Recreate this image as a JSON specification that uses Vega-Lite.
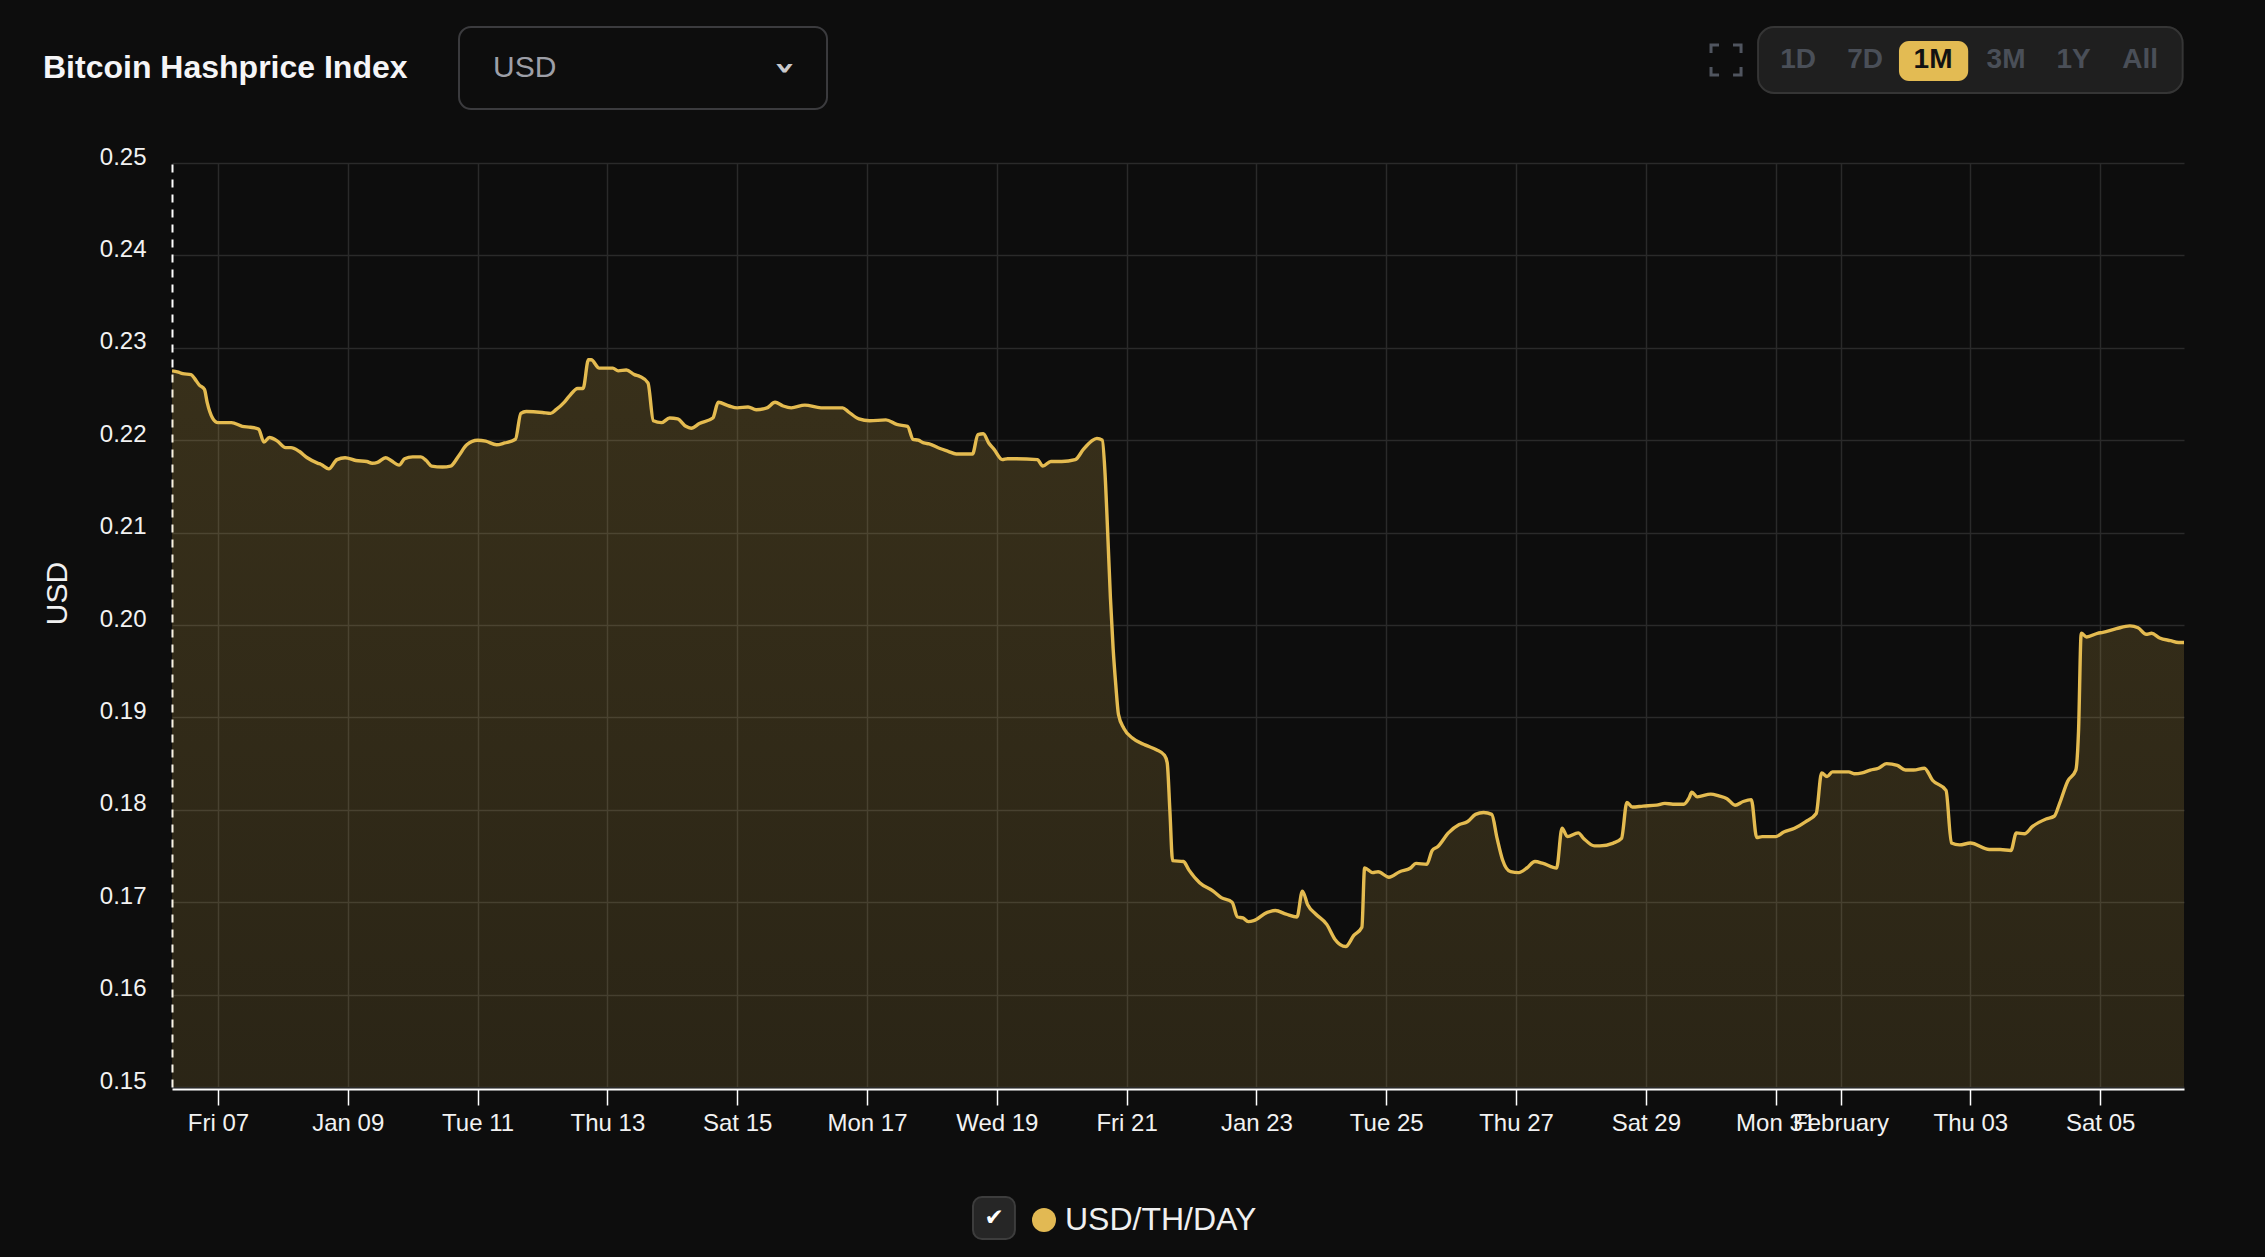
{
  "$schema": "https://vega.github.io/schema/vega-lite/v6.json",
  "width": 2012,
  "height": 924,
  "autosize": {"type": "none"},
  "padding": {"left": 172, "top": 163, "right": 81, "bottom": 170},
  "background": "#0d0d0d",
  "datasets": {
    "hashprice": [
      {"time":"2022-01-06T07:00Z","usd":0.2275},{"time":"2022-01-06T09:00Z","usd":0.2274},{"time":"2022-01-06T11:00Z","usd":0.2272},{"time":"2022-01-06T14:00Z","usd":0.2271},{"time":"2022-01-06T16:00Z","usd":0.2264},{"time":"2022-01-06T17:00Z","usd":0.2260},{"time":"2022-01-06T19:00Z","usd":0.2255},{"time":"2022-01-06T20:00Z","usd":0.2241},{"time":"2022-01-06T22:00Z","usd":0.2224},
      {"time":"2022-01-07T00:00Z","usd":0.2219},{"time":"2022-01-07T05:00Z","usd":0.2219},{"time":"2022-01-07T09:00Z","usd":0.2215},{"time":"2022-01-07T12:00Z","usd":0.2214},{"time":"2022-01-07T15:00Z","usd":0.2212},{"time":"2022-01-07T17:00Z","usd":0.2198},{"time":"2022-01-07T19:00Z","usd":0.2203},{"time":"2022-01-07T22:00Z","usd":0.2199},
      {"time":"2022-01-08T01:00Z","usd":0.2192},{"time":"2022-01-08T03:00Z","usd":0.2192},{"time":"2022-01-08T06:00Z","usd":0.2188},{"time":"2022-01-08T09:00Z","usd":0.2181},{"time":"2022-01-08T13:00Z","usd":0.2175},{"time":"2022-01-08T14:00Z","usd":0.2174},{"time":"2022-01-08T17:00Z","usd":0.2169},{"time":"2022-01-08T20:00Z","usd":0.2179},{"time":"2022-01-08T23:00Z","usd":0.2181},
      {"time":"2022-01-09T03:00Z","usd":0.2178},{"time":"2022-01-09T07:00Z","usd":0.2177},{"time":"2022-01-09T09:00Z","usd":0.2175},{"time":"2022-01-09T11:00Z","usd":0.2176},{"time":"2022-01-09T14:00Z","usd":0.2181},{"time":"2022-01-09T16:00Z","usd":0.2178},{"time":"2022-01-09T19:00Z","usd":0.2173},{"time":"2022-01-09T21:00Z","usd":0.2180},
      {"time":"2022-01-10T00:00Z","usd":0.2182},{"time":"2022-01-10T03:00Z","usd":0.2182},{"time":"2022-01-10T05:00Z","usd":0.2178},{"time":"2022-01-10T07:00Z","usd":0.2172},{"time":"2022-01-10T11:00Z","usd":0.2171},{"time":"2022-01-10T14:00Z","usd":0.2172},{"time":"2022-01-10T17:00Z","usd":0.2183},{"time":"2022-01-10T20:00Z","usd":0.2195},
      {"time":"2022-01-11T00:00Z","usd":0.2200},{"time":"2022-01-11T03:00Z","usd":0.2199},{"time":"2022-01-11T07:00Z","usd":0.2195},{"time":"2022-01-11T10:00Z","usd":0.2197},{"time":"2022-01-11T14:00Z","usd":0.2201},{"time":"2022-01-11T16:00Z","usd":0.2229},{"time":"2022-01-11T18:00Z","usd":0.2231},
      {"time":"2022-01-12T00:00Z","usd":0.2230},{"time":"2022-01-12T03:00Z","usd":0.2229},{"time":"2022-01-12T05:00Z","usd":0.2233},{"time":"2022-01-12T08:00Z","usd":0.2241},{"time":"2022-01-12T10:00Z","usd":0.2248},{"time":"2022-01-12T13:00Z","usd":0.2256},{"time":"2022-01-12T15:00Z","usd":0.2256},{"time":"2022-01-12T17:00Z","usd":0.2287},{"time":"2022-01-12T18:00Z","usd":0.2287},{"time":"2022-01-12T21:00Z","usd":0.2278},
      {"time":"2022-01-13T02:00Z","usd":0.2278},{"time":"2022-01-13T04:00Z","usd":0.2275},{"time":"2022-01-13T07:00Z","usd":0.2276},{"time":"2022-01-13T10:00Z","usd":0.2271},{"time":"2022-01-13T12:00Z","usd":0.2269},{"time":"2022-01-13T15:00Z","usd":0.2262},{"time":"2022-01-13T17:00Z","usd":0.2221},{"time":"2022-01-13T20:00Z","usd":0.2219},{"time":"2022-01-13T23:00Z","usd":0.2224},
      {"time":"2022-01-14T02:00Z","usd":0.2223},{"time":"2022-01-14T05:00Z","usd":0.2215},{"time":"2022-01-14T07:00Z","usd":0.2213},{"time":"2022-01-14T10:00Z","usd":0.2218},{"time":"2022-01-14T15:00Z","usd":0.2224},{"time":"2022-01-14T17:00Z","usd":0.2241},{"time":"2022-01-14T21:00Z","usd":0.2237},
      {"time":"2022-01-15T00:00Z","usd":0.2235},{"time":"2022-01-15T04:00Z","usd":0.2236},{"time":"2022-01-15T07:00Z","usd":0.2233},{"time":"2022-01-15T11:00Z","usd":0.2235},{"time":"2022-01-15T14:00Z","usd":0.2241},{"time":"2022-01-15T17:00Z","usd":0.2237},{"time":"2022-01-15T20:00Z","usd":0.2235},
      {"time":"2022-01-16T01:00Z","usd":0.2238},{"time":"2022-01-16T07:00Z","usd":0.2235},{"time":"2022-01-16T15:00Z","usd":0.2235},{"time":"2022-01-16T17:00Z","usd":0.2231},{"time":"2022-01-16T21:00Z","usd":0.2223},
      {"time":"2022-01-17T01:00Z","usd":0.2221},{"time":"2022-01-17T07:00Z","usd":0.2222},{"time":"2022-01-17T11:00Z","usd":0.2217},{"time":"2022-01-17T15:00Z","usd":0.2215},{"time":"2022-01-17T17:00Z","usd":0.2201},{"time":"2022-01-17T19:00Z","usd":0.2200},{"time":"2022-01-17T21:00Z","usd":0.2197},{"time":"2022-01-17T23:00Z","usd":0.2196},
      {"time":"2022-01-18T03:00Z","usd":0.2191},{"time":"2022-01-18T06:00Z","usd":0.2188},{"time":"2022-01-18T09:00Z","usd":0.2185},{"time":"2022-01-18T15:00Z","usd":0.2185},{"time":"2022-01-18T17:00Z","usd":0.2206},{"time":"2022-01-18T19:00Z","usd":0.2207},{"time":"2022-01-18T21:00Z","usd":0.2197},{"time":"2022-01-18T23:00Z","usd":0.2190},
      {"time":"2022-01-19T02:00Z","usd":0.2179},{"time":"2022-01-19T04:00Z","usd":0.2180},{"time":"2022-01-19T15:00Z","usd":0.2179},{"time":"2022-01-19T17:00Z","usd":0.2172},{"time":"2022-01-19T20:00Z","usd":0.2177},
      {"time":"2022-01-20T00:00Z","usd":0.2177},{"time":"2022-01-20T05:00Z","usd":0.2179},{"time":"2022-01-20T08:00Z","usd":0.2190},{"time":"2022-01-20T11:00Z","usd":0.2199},{"time":"2022-01-20T13:00Z","usd":0.2202},{"time":"2022-01-20T15:00Z","usd":0.2200},{"time":"2022-01-20T16:00Z","usd":0.2165},{"time":"2022-01-20T17:00Z","usd":0.2100},{"time":"2022-01-20T18:00Z","usd":0.2030},{"time":"2022-01-20T19:00Z","usd":0.1975},{"time":"2022-01-20T20:00Z","usd":0.1935},{"time":"2022-01-20T21:00Z","usd":0.1903},{"time":"2022-01-20T23:00Z","usd":0.1888},
      {"time":"2022-01-21T02:00Z","usd":0.1878},{"time":"2022-01-21T07:00Z","usd":0.1870},{"time":"2022-01-21T11:00Z","usd":0.1865},{"time":"2022-01-21T14:00Z","usd":0.1859},{"time":"2022-01-21T15:00Z","usd":0.1851},{"time":"2022-01-21T16:00Z","usd":0.1799},{"time":"2022-01-21T17:00Z","usd":0.1745},{"time":"2022-01-21T21:00Z","usd":0.1744},{"time":"2022-01-21T23:00Z","usd":0.1735},
      {"time":"2022-01-22T03:00Z","usd":0.1721},{"time":"2022-01-22T08:00Z","usd":0.1712},{"time":"2022-01-22T11:00Z","usd":0.1705},{"time":"2022-01-22T15:00Z","usd":0.1700},{"time":"2022-01-22T17:00Z","usd":0.1684},{"time":"2022-01-22T19:00Z","usd":0.1683},{"time":"2022-01-22T21:00Z","usd":0.1679},{"time":"2022-01-22T23:00Z","usd":0.1680},
      {"time":"2022-01-23T04:00Z","usd":0.1689},{"time":"2022-01-23T07:00Z","usd":0.1691},{"time":"2022-01-23T11:00Z","usd":0.1687},{"time":"2022-01-23T15:00Z","usd":0.1684},{"time":"2022-01-23T17:00Z","usd":0.1712},{"time":"2022-01-23T19:00Z","usd":0.1697},{"time":"2022-01-23T22:00Z","usd":0.1687},
      {"time":"2022-01-24T02:00Z","usd":0.1676},{"time":"2022-01-24T05:00Z","usd":0.1660},{"time":"2022-01-24T09:00Z","usd":0.1652},{"time":"2022-01-24T12:00Z","usd":0.1664},{"time":"2022-01-24T15:00Z","usd":0.1673},{"time":"2022-01-24T16:00Z","usd":0.1737},{"time":"2022-01-24T19:00Z","usd":0.1732},{"time":"2022-01-24T21:00Z","usd":0.1733},
      {"time":"2022-01-25T01:00Z","usd":0.1727},{"time":"2022-01-25T05:00Z","usd":0.1733},{"time":"2022-01-25T09:00Z","usd":0.1737},{"time":"2022-01-25T11:00Z","usd":0.1742},{"time":"2022-01-25T15:00Z","usd":0.1741},{"time":"2022-01-25T17:00Z","usd":0.1756},{"time":"2022-01-25T19:00Z","usd":0.1760},{"time":"2022-01-25T23:00Z","usd":0.1775},
      {"time":"2022-01-26T03:00Z","usd":0.1784},{"time":"2022-01-26T06:00Z","usd":0.1787},{"time":"2022-01-26T09:00Z","usd":0.1795},{"time":"2022-01-26T12:00Z","usd":0.1797},{"time":"2022-01-26T15:00Z","usd":0.1795},{"time":"2022-01-26T17:00Z","usd":0.1769},{"time":"2022-01-26T19:00Z","usd":0.1746},{"time":"2022-01-26T22:00Z","usd":0.1733},
      {"time":"2022-01-27T01:00Z","usd":0.1732},{"time":"2022-01-27T04:00Z","usd":0.1737},{"time":"2022-01-27T07:00Z","usd":0.1744},{"time":"2022-01-27T10:00Z","usd":0.1742},{"time":"2022-01-27T15:00Z","usd":0.1737},{"time":"2022-01-27T17:00Z","usd":0.1780},{"time":"2022-01-27T19:00Z","usd":0.1771},{"time":"2022-01-27T23:00Z","usd":0.1775},
      {"time":"2022-01-28T01:00Z","usd":0.1769},{"time":"2022-01-28T05:00Z","usd":0.1761},{"time":"2022-01-28T07:00Z","usd":0.1761},{"time":"2022-01-28T12:00Z","usd":0.1764},{"time":"2022-01-28T15:00Z","usd":0.1769},{"time":"2022-01-28T17:00Z","usd":0.1808},{"time":"2022-01-28T19:00Z","usd":0.1803},{"time":"2022-01-28T23:00Z","usd":0.1804},
      {"time":"2022-01-29T04:00Z","usd":0.1805},{"time":"2022-01-29T07:00Z","usd":0.1807},{"time":"2022-01-29T10:00Z","usd":0.1806},{"time":"2022-01-29T14:00Z","usd":0.1806},{"time":"2022-01-29T16:00Z","usd":0.1813},{"time":"2022-01-29T17:00Z","usd":0.1819},{"time":"2022-01-29T19:00Z","usd":0.1814},
      {"time":"2022-01-30T00:00Z","usd":0.1817},{"time":"2022-01-30T03:00Z","usd":0.1815},{"time":"2022-01-30T06:00Z","usd":0.1812},{"time":"2022-01-30T09:00Z","usd":0.1805},{"time":"2022-01-30T12:00Z","usd":0.1809},{"time":"2022-01-30T15:00Z","usd":0.1811},{"time":"2022-01-30T17:00Z","usd":0.1770},{"time":"2022-01-30T19:00Z","usd":0.1771},
      {"time":"2022-01-31T00:00Z","usd":0.1771},{"time":"2022-01-31T03:00Z","usd":0.1776},{"time":"2022-01-31T07:00Z","usd":0.1780},{"time":"2022-01-31T11:00Z","usd":0.1787},{"time":"2022-01-31T15:00Z","usd":0.1796},{"time":"2022-01-31T17:00Z","usd":0.1840},{"time":"2022-01-31T19:00Z","usd":0.1836},{"time":"2022-01-31T21:00Z","usd":0.1841},
      {"time":"2022-02-01T03:00Z","usd":0.1841},{"time":"2022-02-01T05:00Z","usd":0.1839},{"time":"2022-02-01T08:00Z","usd":0.1840},{"time":"2022-02-01T11:00Z","usd":0.1843},{"time":"2022-02-01T14:00Z","usd":0.1845},{"time":"2022-02-01T17:00Z","usd":0.1850},{"time":"2022-02-01T21:00Z","usd":0.1848},
      {"time":"2022-02-02T00:00Z","usd":0.1843},{"time":"2022-02-02T03:00Z","usd":0.1843},{"time":"2022-02-02T07:00Z","usd":0.1845},{"time":"2022-02-02T10:00Z","usd":0.1832},{"time":"2022-02-02T15:00Z","usd":0.1821},{"time":"2022-02-02T17:00Z","usd":0.1764},{"time":"2022-02-02T20:00Z","usd":0.1762},
      {"time":"2022-02-03T00:00Z","usd":0.1764},{"time":"2022-02-03T07:00Z","usd":0.1757},{"time":"2022-02-03T11:00Z","usd":0.1757},{"time":"2022-02-03T15:00Z","usd":0.1756},{"time":"2022-02-03T17:00Z","usd":0.1775},{"time":"2022-02-03T20:00Z","usd":0.1774},{"time":"2022-02-03T23:00Z","usd":0.1782},
      {"time":"2022-02-04T04:00Z","usd":0.1790},{"time":"2022-02-04T07:00Z","usd":0.1793},{"time":"2022-02-04T09:00Z","usd":0.1807},{"time":"2022-02-04T12:00Z","usd":0.1831},{"time":"2022-02-04T15:00Z","usd":0.1843},{"time":"2022-02-04T16:00Z","usd":0.1885},{"time":"2022-02-04T17:00Z","usd":0.1991},{"time":"2022-02-04T19:00Z","usd":0.1987},{"time":"2022-02-04T23:00Z","usd":0.1991},
      {"time":"2022-02-05T01:00Z","usd":0.1992},{"time":"2022-02-05T06:00Z","usd":0.1996},{"time":"2022-02-05T11:00Z","usd":0.1999},{"time":"2022-02-05T14:00Z","usd":0.1997},{"time":"2022-02-05T17:00Z","usd":0.1990},{"time":"2022-02-05T19:00Z","usd":0.1991},{"time":"2022-02-05T22:00Z","usd":0.1986},
      {"time":"2022-02-06T02:00Z","usd":0.1983},{"time":"2022-02-06T05:00Z","usd":0.1981},{"time":"2022-02-06T07:00Z","usd":0.1981}
    ]
  },
  "layer": [
    {
      "data": {"name": "hashprice"},
      "encoding": {
        "x": {
          "field": "time",
          "type": "temporal",
          "scale": {"type": "utc", "domain": [{"year": 2022, "month": 1, "date": 6, "hours": 7, "utc": true}, {"year": 2022, "month": 2, "date": 6, "hours": 7, "utc": true}]},
          "axis": {
            "title": null,
            "values": [
              {"year": 2022, "month": 1, "date": 7, "utc": true}, {"year": 2022, "month": 1, "date": 9, "utc": true},
              {"year": 2022, "month": 1, "date": 11, "utc": true}, {"year": 2022, "month": 1, "date": 13, "utc": true},
              {"year": 2022, "month": 1, "date": 15, "utc": true}, {"year": 2022, "month": 1, "date": 17, "utc": true},
              {"year": 2022, "month": 1, "date": 19, "utc": true}, {"year": 2022, "month": 1, "date": 21, "utc": true},
              {"year": 2022, "month": 1, "date": 23, "utc": true}, {"year": 2022, "month": 1, "date": 25, "utc": true},
              {"year": 2022, "month": 1, "date": 27, "utc": true}, {"year": 2022, "month": 1, "date": 29, "utc": true},
              {"year": 2022, "month": 1, "date": 31, "utc": true}, {"year": 2022, "month": 2, "date": 1, "utc": true},
              {"year": 2022, "month": 2, "date": 3, "utc": true}, {"year": 2022, "month": 2, "date": 5, "utc": true}
            ],
            "labelExpr": "utcdate(datum.value) == 1 ? utcFormat(datum.value, '%B') : (utcday(datum.value) == 0 ? utcFormat(datum.value, '%b %d') : utcFormat(datum.value, '%a %d'))",
            "labelOverlap": false,
            "labelFlush": false,
            "labelBound": false,
            "grid": true,
            "gridColor": "#2a2a2a",
            "gridWidth": 1.5,
            "domainColor": "#ffffff",
            "domainWidth": 2,
            "tickColor": "#ffffff",
            "tickWidth": 1.5,
            "tickSize": 16,
            "offset": 2,
            "labelPadding": 6,
            "labelFont": "Liberation Sans",
            "labelFontSize": 24,
            "labelColor": "#f2f2f2"
          }
        },
        "y": {
          "field": "usd",
          "type": "quantitative",
          "scale": {"domain": [0.15, 0.25], "zero": false, "nice": false},
          "axis": {
            "title": "USD",
            "values": [0.15, 0.16, 0.17, 0.18, 0.19, 0.2, 0.21, 0.22, 0.23, 0.24, 0.25],
            "format": ".2f",
            "grid": true,
            "gridColor": "#2a2a2a",
            "gridWidth": 1.5,
            "ticks": false,
            "domainColor": "#ffffff",
            "domainWidth": 2,
            "domainDash": [8, 7],
            "labelPadding": 26,
            "labelBaseline": "middle",
            "labelOffset": -6,
            "labelFont": "Liberation Sans",
            "labelFontSize": 24,
            "labelColor": "#f2f2f2",
            "titleFont": "Liberation Sans",
            "titleFontSize": 30,
            "titleFontWeight": "normal",
            "titleColor": "#f0f0f0",
            "titleAngle": -90,
            "titleAlign": "center",
            "titleBaseline": "middle",
            "titleX": -115,
            "titleY": 430
          }
        }
      },
      "layer": [
        {
          "mark": {
            "type": "area",
            "interpolate": "monotone",
            "clip": true,
            "color": {
              "gradient": "linear", "x1": 0, "y1": 0, "x2": 0, "y2": 1,
              "stops": [{"offset": 0, "color": "rgba(228,187,79,0.2)"}, {"offset": 1, "color": "rgba(228,187,79,0.02)"}]
            }
          }
        },
        {
          "mark": {"type": "line", "interpolate": "monotone", "strokeWidth": 3.4, "clip": true},
          "encoding": {
            "color": {
              "datum": "USD/TH/DAY",
              "type": "nominal",
              "scale": {"range": ["#e4bb50"]},
              "legend": {
                "title": null,
                "orient": "none",
                "legendX": 856,
                "legendY": 1041,
                "direction": "horizontal",
                "padding": 0,
                "symbolType": "circle",
                "symbolSize": 576,
                "symbolFillColor": "#e2b953",
                "symbolStrokeWidth": 0,
                "labelFont": "Liberation Sans",
                "labelFontSize": 32,
                "labelColor": "#f0f0f0",
                "labelOffset": 5,
                "labelLimit": 500,
                "encode": {"symbols": {"update": {"fill": {"value": "#e2b953"}, "strokeWidth": {"value": 0}, "opacity": {"value": 1}}}}
              }
            }
          }
        }
      ]
    },
    {
      "data": {"values": [{"label": "Bitcoin Hashprice Index"}]},
      "mark": {"type": "text", "clip": false, "align": "left", "baseline": "alphabetic", "font": "Liberation Sans", "fontSize": 32, "fontWeight": "bold", "color": "#f5f5f7"},
      "encoding": {
        "x": {"datum": {"year": 2022, "month": 1, "date": 4, "hours": 7, "minutes": 18, "utc": true}, "type": "temporal"},
        "y": {"datum": 0.259199, "type": "quantitative"},
        "text": {"field": "label"}
      }
    },
    {
      "data": {"values": [{"label": "dropdown"}]},
      "mark": {"type": "rect", "clip": false, "cornerRadius": 12, "fill": "#0d0d0d", "stroke": "#3b3b3e", "strokeWidth": 2},
      "encoding": {
        "x": {"datum": {"year": 2022, "month": 1, "date": 10, "hours": 17, "minutes": 8, "utc": true}, "type": "temporal"},
        "x2": {"datum": {"year": 2022, "month": 1, "date": 16, "hours": 9, "minutes": 13, "utc": true}},
        "y": {"datum": 0.264719, "type": "quantitative"},
        "y2": {"datum": 0.255844}
      }
    },
    {
      "data": {"values": [{"label": "USD"}]},
      "mark": {"type": "text", "clip": false, "align": "left", "baseline": "middle", "font": "Liberation Sans", "fontSize": 30, "color": "#9d9fa7"},
      "encoding": {
        "x": {"datum": {"year": 2022, "month": 1, "date": 11, "hours": 5, "minutes": 42, "utc": true}, "type": "temporal"},
        "y": {"datum": 0.260281, "type": "quantitative"},
        "text": {"field": "label"}
      }
    },
    {
      "data": {"values": [{"label": "›"}]},
      "mark": {"type": "text", "clip": false, "align": "center", "baseline": "middle", "angle": 90, "font": "DejaVu Sans", "fontSize": 36, "fontWeight": "bold", "color": "#c9c9cc"},
      "encoding": {
        "x": {"datum": {"year": 2022, "month": 1, "date": 15, "hours": 17, "minutes": 42, "utc": true}, "type": "temporal"},
        "y": {"datum": 0.260281, "type": "quantitative"},
        "text": {"field": "label"}
      }
    },
    {
      "data": {"values": [{"label": "fullscreen"}]},
      "mark": {"type": "rect", "clip": false, "fill": "transparent", "stroke": "#50555f", "strokeWidth": 3, "strokeDash": [8, 14, 8, 0]},
      "encoding": {
        "x": {"datum": {"year": 2022, "month": 1, "date": 30, "hours": 0, "minutes": 6, "utc": true}, "type": "temporal"},
        "x2": {"datum": {"year": 2022, "month": 1, "date": 30, "hours": 11, "minutes": 12, "utc": true}},
        "y": {"datum": 0.262771, "type": "quantitative"},
        "y2": {"datum": 0.259524}
      }
    },
    {
      "data": {"values": [{"label": "range"}]},
      "mark": {"type": "rect", "clip": false, "cornerRadius": 16, "fill": "#1f1f1f", "stroke": "#353535", "strokeWidth": 2},
      "encoding": {
        "x": {"datum": {"year": 2022, "month": 1, "date": 30, "hours": 17, "minutes": 30, "utc": true}, "type": "temporal"},
        "x2": {"datum": {"year": 2022, "month": 2, "date": 6, "hours": 6, "minutes": 30, "utc": true}},
        "y": {"datum": 0.264719, "type": "quantitative"},
        "y2": {"datum": 0.257576}
      }
    },
    {
      "data": {"values": [{"label": "selected"}]},
      "mark": {"type": "rect", "clip": false, "cornerRadius": 10, "fill": "#e3bb53"},
      "encoding": {
        "x": {"datum": {"year": 2022, "month": 2, "date": 1, "hours": 21, "minutes": 36, "utc": true}, "type": "temporal"},
        "x2": {"datum": {"year": 2022, "month": 2, "date": 2, "hours": 23, "minutes": 12, "utc": true}},
        "y": {"datum": 0.263203, "type": "quantitative"},
        "y2": {"datum": 0.258874}
      }
    },
    {
      "data": {"values": [{"label": "1D"}]},
      "mark": {"type": "text", "clip": false, "align": "center", "baseline": "middle", "font": "Liberation Sans", "fontSize": 28, "fontWeight": "bold", "color": "#4a4f58"},
      "encoding": {
        "x": {"datum": {"year": 2022, "month": 1, "date": 31, "hours": 8, "minutes": 18, "utc": true}, "type": "temporal"},
        "y": {"datum": 0.261147, "type": "quantitative"},
        "text": {"field": "label"}
      }
    },
    {
      "data": {"values": [{"label": "7D"}]},
      "mark": {"type": "text", "clip": false, "align": "center", "baseline": "middle", "font": "Liberation Sans", "fontSize": 28, "fontWeight": "bold", "color": "#4a4f58"},
      "encoding": {
        "x": {"datum": {"year": 2022, "month": 2, "date": 1, "hours": 9, "minutes": 6, "utc": true}, "type": "temporal"},
        "y": {"datum": 0.261147, "type": "quantitative"},
        "text": {"field": "label"}
      }
    },
    {
      "data": {"values": [{"label": "1M"}]},
      "mark": {"type": "text", "clip": false, "align": "center", "baseline": "middle", "font": "Liberation Sans", "fontSize": 28, "fontWeight": "bold", "color": "#121212"},
      "encoding": {
        "x": {"datum": {"year": 2022, "month": 2, "date": 2, "hours": 10, "minutes": 12, "utc": true}, "type": "temporal"},
        "y": {"datum": 0.261147, "type": "quantitative"},
        "text": {"field": "label"}
      }
    },
    {
      "data": {"values": [{"label": "3M"}]},
      "mark": {"type": "text", "clip": false, "align": "center", "baseline": "middle", "font": "Liberation Sans", "fontSize": 28, "fontWeight": "bold", "color": "#4a4f58"},
      "encoding": {
        "x": {"datum": {"year": 2022, "month": 2, "date": 3, "hours": 13, "minutes": 12, "utc": true}, "type": "temporal"},
        "y": {"datum": 0.261147, "type": "quantitative"},
        "text": {"field": "label"}
      }
    },
    {
      "data": {"values": [{"label": "1Y"}]},
      "mark": {"type": "text", "clip": false, "align": "center", "baseline": "middle", "font": "Liberation Sans", "fontSize": 28, "fontWeight": "bold", "color": "#4a4f58"},
      "encoding": {
        "x": {"datum": {"year": 2022, "month": 2, "date": 4, "hours": 14, "minutes": 12, "utc": true}, "type": "temporal"},
        "y": {"datum": 0.261147, "type": "quantitative"},
        "text": {"field": "label"}
      }
    },
    {
      "data": {"values": [{"label": "All"}]},
      "mark": {"type": "text", "clip": false, "align": "center", "baseline": "middle", "font": "Liberation Sans", "fontSize": 28, "fontWeight": "bold", "color": "#4a4f58"},
      "encoding": {
        "x": {"datum": {"year": 2022, "month": 2, "date": 5, "hours": 14, "minutes": 48, "utc": true}, "type": "temporal"},
        "y": {"datum": 0.261147, "type": "quantitative"},
        "text": {"field": "label"}
      }
    },
    {
      "data": {"values": [{"label": "checkbox"}]},
      "mark": {"type": "rect", "clip": false, "cornerRadius": 9, "fill": "#262626", "stroke": "#3d3d3d", "strokeWidth": 2},
      "encoding": {
        "x": {"datum": {"year": 2022, "month": 1, "date": 18, "hours": 15, "minutes": 12, "utc": true}, "type": "temporal"},
        "x2": {"datum": {"year": 2022, "month": 1, "date": 19, "hours": 6, "minutes": 42, "utc": true}},
        "y": {"datum": 0.138095, "type": "quantitative"},
        "y2": {"datum": 0.13355}
      }
    },
    {
      "data": {"values": [{"label": "✔"}]},
      "mark": {"type": "text", "clip": false, "align": "center", "baseline": "middle", "font": "DejaVu Sans", "fontSize": 23, "fontWeight": "bold", "color": "#ffffff"},
      "encoding": {
        "x": {"datum": {"year": 2022, "month": 1, "date": 18, "hours": 23, "minutes": 0, "utc": true}, "type": "temporal"},
        "y": {"datum": 0.135823, "type": "quantitative"},
        "text": {"field": "label"}
      }
    }
  ],
  "config": {
    "view": {"stroke": null},
    "font": "Liberation Sans"
  }
}
